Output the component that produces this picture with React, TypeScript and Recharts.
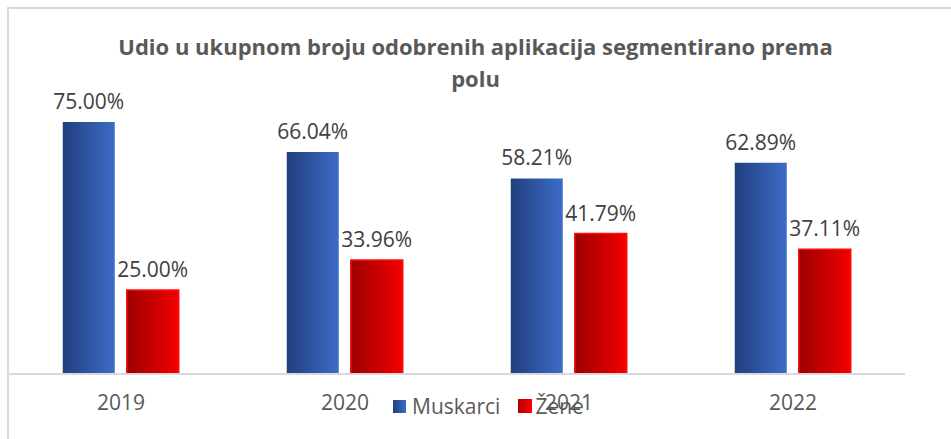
import React from 'react'
import { BarChart, Bar, XAxis, YAxis, LabelList } from 'recharts'

const YEARS = ['2019', '2020', '2021', '2022']
const MUSKARCI = [75.0, 66.04, 58.21, 62.89]
const ZENE = [25.0, 33.96, 41.79, 37.11]

const data = YEARS.map((year, i) => ({ year, muskarci: MUSKARCI[i], zene: ZENE[i] }))

const FONT = '"Open Sans", "Liberation Sans", sans-serif'
const fmt = (v: number) => `${v.toFixed(2)}%`

export default function App() {
  return (
    <div style={{ position: 'absolute', left: 0, top: 0, width: 951, height: 439, background: '#fff', fontFamily: FONT }}>
      {/* chart frame (left + top border) */}
      <div style={{ position: 'absolute', left: 7, top: 7, width: 944, height: 432, borderLeft: '2px solid #d9d9d9', borderTop: '2px solid #d9d9d9' }} />

      <div
        style={{
          position: 'absolute', left: 0, top: 30, width: 951, textAlign: 'center',
          fontSize: 22, fontWeight: 700, color: '#595959', lineHeight: '32px',
        }}
      >
        Udio u ukupnom broju odobrenih aplikacija segmentirano prema
        <br />
        polu
      </div>

      <div style={{ position: 'absolute', left: 0, top: 0 }}>
        <BarChart
          width={951}
          height={439}
          data={data}
          margin={{ top: 38, right: 46, left: 9, bottom: 35 }}
          barCategoryGap="24%"
          barGap={12}
        >
          <defs>
            <linearGradient id="gBlue" x1="0" y1="0" x2="1" y2="0">
              <stop offset="0%" stopColor="#213f7d" />
              <stop offset="100%" stopColor="#3b6dc7" />
            </linearGradient>
            <linearGradient id="gRed" x1="0" y1="0" x2="1" y2="0">
              <stop offset="0%" stopColor="#9c0000" />
              <stop offset="100%" stopColor="#f20000" />
            </linearGradient>
          </defs>
          <XAxis
            dataKey="year"
            height={30}
            tickLine={false}
            axisLine={{ stroke: '#d9d9d9', strokeWidth: 2 }}
            tick={{ fontSize: 21, fill: '#595959', fontFamily: FONT }}
            tickMargin={15}
          />
          <YAxis hide domain={[0, 100]} />
          <Bar dataKey="muskarci" fill="url(#gBlue)" isAnimationActive={false}>
            <LabelList dataKey="muskarci" position="top" offset={13} formatter={fmt}
              style={{ fontSize: 21, fill: '#404040', fontFamily: FONT }} />
          </Bar>
          <Bar dataKey="zene" fill="url(#gRed)" stroke="#ff1010" strokeWidth={1.5} isAnimationActive={false}>
            <LabelList dataKey="zene" position="top" offset={13} formatter={fmt}
              style={{ fontSize: 21, fill: '#404040', fontFamily: FONT }} />
          </Bar>
        </BarChart>
      </div>

      {/* legend */}
      <div style={{ position: 'absolute', left: 393, top: 392, display: 'flex', alignItems: 'center', fontSize: 21, color: '#595959' }}>
        <span style={{ width: 13, height: 13, background: 'linear-gradient(90deg,#213f7d,#3b6dc7)', display: 'inline-block', marginRight: 6 }} />
        <span>Muskarci</span>
        <span style={{ width: 14, height: 14, background: 'linear-gradient(90deg,#b00000,#ff0000)', display: 'inline-block', marginLeft: 18, marginRight: 3 }} />
        <span>Žene</span>
      </div>
    </div>
  )
}
